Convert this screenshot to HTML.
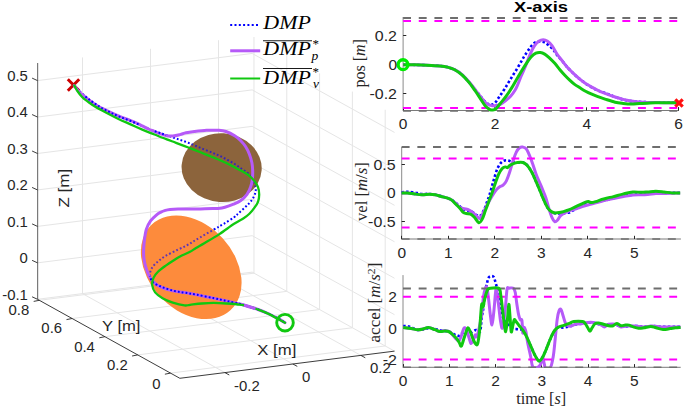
<!DOCTYPE html>
<html><head><meta charset="utf-8"><style>
html,body{margin:0;padding:0;background:#fff;width:685px;height:408px;overflow:hidden;}
svg{display:block;font-family:"Liberation Sans",sans-serif;}
</style></head><body>
<svg width="685" height="408" viewBox="0 0 685 408"><g><line x1="82.52" y1="293.61" x2="82.52" y2="57.41" stroke="#e5e5e5" stroke-width="1"/><line x1="224.87" y1="372.59" x2="82.52" y2="293.61" stroke="#e5e5e5" stroke-width="1"/><line x1="150.52" y1="285.01" x2="150.52" y2="48.81" stroke="#e5e5e5" stroke-width="1"/><line x1="292.87" y1="363.99" x2="150.52" y2="285.01" stroke="#e5e5e5" stroke-width="1"/><line x1="218.52" y1="276.41" x2="218.52" y2="40.21" stroke="#e5e5e5" stroke-width="1"/><line x1="360.87" y1="355.39" x2="218.52" y2="276.41" stroke="#e5e5e5" stroke-width="1"/><line x1="37.5" y1="299.3" x2="252.18" y2="272.15" stroke="#e5e5e5" stroke-width="1"/><line x1="394.53" y1="351.14" x2="252.18" y2="272.15" stroke="#e5e5e5" stroke-width="1"/><line x1="37.5" y1="262.85" x2="252.18" y2="235.7" stroke="#e5e5e5" stroke-width="1"/><line x1="394.53" y1="314.69" x2="252.18" y2="235.7" stroke="#e5e5e5" stroke-width="1"/><line x1="37.5" y1="226.4" x2="252.18" y2="199.25" stroke="#e5e5e5" stroke-width="1"/><line x1="394.53" y1="278.24" x2="252.18" y2="199.25" stroke="#e5e5e5" stroke-width="1"/><line x1="37.5" y1="189.95" x2="252.18" y2="162.8" stroke="#e5e5e5" stroke-width="1"/><line x1="394.53" y1="241.79" x2="252.18" y2="162.8" stroke="#e5e5e5" stroke-width="1"/><line x1="37.5" y1="153.5" x2="252.18" y2="126.35" stroke="#e5e5e5" stroke-width="1"/><line x1="394.53" y1="205.34" x2="252.18" y2="126.35" stroke="#e5e5e5" stroke-width="1"/><line x1="37.5" y1="117.05" x2="252.18" y2="89.9" stroke="#e5e5e5" stroke-width="1"/><line x1="394.53" y1="168.89" x2="252.18" y2="89.9" stroke="#e5e5e5" stroke-width="1"/><line x1="37.5" y1="80.6" x2="252.18" y2="53.45" stroke="#e5e5e5" stroke-width="1"/><line x1="394.53" y1="132.44" x2="252.18" y2="53.45" stroke="#e5e5e5" stroke-width="1"/><line x1="385.18" y1="345.95" x2="385.18" y2="109.75" stroke="#e5e5e5" stroke-width="1"/><line x1="170.5" y1="373.1" x2="385.18" y2="345.95" stroke="#e5e5e5" stroke-width="1"/><line x1="352.38" y1="327.75" x2="352.38" y2="91.55" stroke="#e5e5e5" stroke-width="1"/><line x1="137.7" y1="354.9" x2="352.38" y2="327.75" stroke="#e5e5e5" stroke-width="1"/><line x1="319.58" y1="309.55" x2="319.58" y2="73.35" stroke="#e5e5e5" stroke-width="1"/><line x1="104.9" y1="336.7" x2="319.58" y2="309.55" stroke="#e5e5e5" stroke-width="1"/><line x1="286.78" y1="291.35" x2="286.78" y2="55.15" stroke="#e5e5e5" stroke-width="1"/><line x1="72.1" y1="318.5" x2="286.78" y2="291.35" stroke="#e5e5e5" stroke-width="1"/><line x1="253.98" y1="273.15" x2="253.98" y2="36.95" stroke="#e5e5e5" stroke-width="1"/><line x1="39.3" y1="300.3" x2="253.98" y2="273.15" stroke="#e5e5e5" stroke-width="1"/></g>
<g><line x1="37.6" y1="299.3" x2="37.6" y2="63" stroke="#7a7a7a" stroke-width="1.2"/><line x1="179.85" y1="378.29" x2="37.5" y2="299.3" stroke="#262626" stroke-width="0.9"/><line x1="179.85" y1="378.29" x2="394.53" y2="351.14" stroke="#262626" stroke-width="0.9"/><line x1="37.5" y1="299.3" x2="32.1" y2="296.8" stroke="#262626" stroke-width="0.9"/><line x1="37.5" y1="262.85" x2="32.1" y2="260.35" stroke="#262626" stroke-width="0.9"/><line x1="37.5" y1="226.4" x2="32.1" y2="223.9" stroke="#262626" stroke-width="0.9"/><line x1="37.5" y1="189.95" x2="32.1" y2="187.45" stroke="#262626" stroke-width="0.9"/><line x1="37.5" y1="153.5" x2="32.1" y2="151" stroke="#262626" stroke-width="0.9"/><line x1="37.5" y1="117.05" x2="32.1" y2="114.55" stroke="#262626" stroke-width="0.9"/><line x1="37.5" y1="80.6" x2="32.1" y2="78.1" stroke="#262626" stroke-width="0.9"/><line x1="170.5" y1="373.1" x2="164.9" y2="374.2" stroke="#262626" stroke-width="0.9"/><line x1="137.7" y1="354.9" x2="132.1" y2="356" stroke="#262626" stroke-width="0.9"/><line x1="104.9" y1="336.7" x2="99.3" y2="337.8" stroke="#262626" stroke-width="0.9"/><line x1="72.1" y1="318.5" x2="66.5" y2="319.6" stroke="#262626" stroke-width="0.9"/><line x1="39.3" y1="300.3" x2="33.7" y2="301.4" stroke="#262626" stroke-width="0.9"/><line x1="224.87" y1="372.59" x2="229.27" y2="374.99" stroke="#262626" stroke-width="0.9"/><line x1="292.87" y1="363.99" x2="297.27" y2="366.39" stroke="#262626" stroke-width="0.9"/><line x1="360.87" y1="355.39" x2="365.27" y2="357.79" stroke="#262626" stroke-width="0.9"/></g>
<defs><clipPath id="sph"><ellipse cx="221.64" cy="167.67" rx="40.1" ry="34.4" transform="rotate(3.8 221.64 167.67)"/><ellipse cx="191.23" cy="267.32" rx="58.2" ry="42.8" transform="rotate(47.7 191.23 267.32)"/></clipPath></defs>
<defs><clipPath id="bluetop"><rect x="84" y="86" width="56" height="44"/><polygon points="145,276 300,276 300,335 145,335"/><rect x="154" y="128" width="12" height="9"/></clipPath></defs>
<path d="M67.8 79.3 L79.2 90.7 M79.2 79.3 L67.8 90.7" stroke="#cc0000" stroke-width="3"/>
<path d="M74.3 85.5 C75.25 86.5 77.38 89.03 80 91.5 C82.62 93.97 86.67 97.72 90 100.3 C93.33 102.88 96.67 104.98 100 107 C103.33 109.02 106.67 110.75 110 112.4 C113.33 114.05 116.25 115.35 120 116.9 C123.75 118.45 128.33 119.97 132.5 121.7 C136.67 123.43 141.13 125.65 145 127.3 C148.87 128.95 152.28 130.35 155.7 131.6 C159.12 132.85 162.07 133.63 165.5 134.8 C168.93 135.97 172.5 137.27 176.3 138.6 C180.1 139.93 184.27 141.25 188.3 142.8 C192.33 144.35 196.42 146.22 200.5 147.9 C204.58 149.58 209.55 151.55 212.8 152.9 C216.05 154.25 217.57 154.85 220 156 C222.43 157.15 224.95 158.47 227.4 159.8 C229.85 161.13 232.47 162.58 234.7 164 C236.93 165.42 238.75 166.87 240.8 168.3 C242.85 169.73 245.3 171.23 247 172.6 C248.7 173.97 249.98 175.32 251 176.5 C252.02 177.68 252.35 177.93 253.1 179.7 C253.85 181.47 255.1 185.05 255.5 187.1 C255.9 189.15 255.9 190.17 255.5 192 C255.1 193.83 254.12 196.27 253.1 198.1 C252.08 199.93 250.83 201.37 249.4 203 C247.97 204.63 246.33 206.17 244.5 207.9 C242.67 209.63 240.13 211.85 238.4 213.4 C236.67 214.95 236.53 215.47 234.1 217.2 C231.67 218.93 227.23 221.72 223.8 223.8 C220.37 225.88 218.13 227.03 213.5 229.7 C208.87 232.37 200.33 237.25 196 239.8 C191.67 242.35 190.63 243.3 187.5 245 C184.37 246.7 180.88 248.17 177.2 250 C173.52 251.83 168.6 254.08 165.4 256 C162.2 257.92 160.2 259.6 158 261.5 C155.8 263.4 153.53 265.2 152.2 267.4 C150.87 269.6 149.88 272.25 150 274.7 C150.12 277.15 150.82 280.02 152.9 282.1 C154.98 284.18 158.95 285.73 162.5 287.2 C166.05 288.67 170.53 290 174.2 290.9 C177.87 291.8 180.87 291.98 184.5 292.6 C188.13 293.22 191.17 293.68 196 294.6 C200.83 295.52 208.37 297.03 213.5 298.1 C218.63 299.17 222.38 300.02 226.8 301 C231.22 301.98 236.13 303.02 240 304 C243.87 304.98 247 305.98 250 306.9 C253 307.82 255 308.4 258 309.5 C261 310.6 264.33 311.82 268 313.5 C271.67 315.18 277.17 318.07 280 319.6 C282.83 321.13 284.17 322.18 285 322.7" fill="none" stroke="#0000ff" stroke-width="2" stroke-dasharray="1.8 2.1"/>
<ellipse cx="221.64" cy="167.67" rx="40.1" ry="34.4" transform="rotate(3.8 221.64 167.67)" fill="#8c643c"/>
<ellipse cx="191.23" cy="267.32" rx="58.2" ry="42.8" transform="rotate(47.7 191.23 267.32)" fill="#fd8b3c"/>
<path d="M74.3 85.5 C75.25 86.5 77.38 89.03 80 91.5 C82.62 93.97 86.67 97.72 90 100.3 C93.33 102.88 96.67 104.98 100 107 C103.33 109.02 106.67 110.75 110 112.4 C113.33 114.05 116.25 115.35 120 116.9 C123.75 118.45 128.33 119.97 132.5 121.7 C136.67 123.43 141.13 125.65 145 127.3 C148.87 128.95 152.28 130.35 155.7 131.6 C159.12 132.85 162.07 133.63 165.5 134.8 C168.93 135.97 172.5 137.27 176.3 138.6 C180.1 139.93 184.27 141.25 188.3 142.8 C192.33 144.35 196.42 146.22 200.5 147.9 C204.58 149.58 209.55 151.55 212.8 152.9 C216.05 154.25 217.57 154.85 220 156 C222.43 157.15 224.95 158.47 227.4 159.8 C229.85 161.13 232.47 162.58 234.7 164 C236.93 165.42 238.75 166.87 240.8 168.3 C242.85 169.73 245.3 171.23 247 172.6 C248.7 173.97 249.98 175.32 251 176.5 C252.02 177.68 252.35 177.93 253.1 179.7 C253.85 181.47 255.1 185.05 255.5 187.1 C255.9 189.15 255.9 190.17 255.5 192 C255.1 193.83 254.12 196.27 253.1 198.1 C252.08 199.93 250.83 201.37 249.4 203 C247.97 204.63 246.33 206.17 244.5 207.9 C242.67 209.63 240.13 211.85 238.4 213.4 C236.67 214.95 236.53 215.47 234.1 217.2 C231.67 218.93 227.23 221.72 223.8 223.8 C220.37 225.88 218.13 227.03 213.5 229.7 C208.87 232.37 200.33 237.25 196 239.8 C191.67 242.35 190.63 243.3 187.5 245 C184.37 246.7 180.88 248.17 177.2 250 C173.52 251.83 168.6 254.08 165.4 256 C162.2 257.92 160.2 259.6 158 261.5 C155.8 263.4 153.53 265.2 152.2 267.4 C150.87 269.6 149.88 272.25 150 274.7 C150.12 277.15 150.82 280.02 152.9 282.1 C154.98 284.18 158.95 285.73 162.5 287.2 C166.05 288.67 170.53 290 174.2 290.9 C177.87 291.8 180.87 291.98 184.5 292.6 C188.13 293.22 191.17 293.68 196 294.6 C200.83 295.52 208.37 297.03 213.5 298.1 C218.63 299.17 222.38 300.02 226.8 301 C231.22 301.98 236.13 303.02 240 304 C243.87 304.98 247 305.98 250 306.9 C253 307.82 255 308.4 258 309.5 C261 310.6 264.33 311.82 268 313.5 C271.67 315.18 277.17 318.07 280 319.6 C282.83 321.13 284.17 322.18 285 322.7" fill="none" stroke="#0000ff" stroke-opacity="0.62" stroke-width="2" clip-path="url(#sph)" stroke-dasharray="1.8 2.1"/>
<path d="M74.3 85.5 C74.83 86.25 76.17 88.47 77.5 90 C78.83 91.53 79.47 92.38 82.3 94.7 C85.13 97.02 90.42 101.25 94.5 103.9 C98.58 106.55 102.72 108.55 106.8 110.6 C110.88 112.65 115.13 114.57 119 116.2 C122.87 117.83 127.15 119.28 130 120.4 C132.85 121.52 134.05 121.98 136.1 122.9 C138.15 123.82 140.25 124.88 142.3 125.9 C144.35 126.92 146.37 128.08 148.4 129 C150.43 129.92 152.47 130.58 154.5 131.4 C156.53 132.22 158.55 133.18 160.6 133.9 C162.65 134.62 164.75 135.35 166.8 135.7 C168.85 136.05 170.7 136.18 172.9 136 C175.1 135.82 177.82 135.13 180 134.6 C182.18 134.07 183.6 133.32 186 132.8 C188.4 132.28 190.97 131.92 194.4 131.5 C197.83 131.08 202.52 130.5 206.6 130.3 C210.68 130.1 215.67 130.1 218.9 130.3 C222.13 130.5 223.37 130.58 226 131.5 C228.63 132.42 232.23 134.27 234.7 135.8 C237.17 137.33 238.97 138.87 240.8 140.7 C242.63 142.53 244.27 144.55 245.7 146.8 C247.13 149.05 248.37 151.53 249.4 154.2 C250.43 156.87 251.35 160 251.9 162.8 C252.45 165.6 252.63 168.18 252.7 171 C252.77 173.82 252.65 177.02 252.3 179.7 C251.95 182.38 251.48 184.65 250.6 187.1 C249.72 189.55 248.63 192.17 247 194.4 C245.37 196.63 243.05 198.87 240.8 200.5 C238.55 202.13 236.15 203.07 233.5 204.2 C230.85 205.33 227.48 206.58 224.9 207.3 C222.32 208.02 220.02 208.28 218 208.5 C215.98 208.72 215.72 208.53 212.8 208.6 C209.88 208.67 204.58 208.82 200.5 208.9 C196.42 208.98 192.05 209.08 188.3 209.1 C184.55 209.12 181.05 208.93 178 209 C174.95 209.07 172.1 209.27 170 209.5 C167.9 209.73 166.98 209.93 165.4 210.4 C163.82 210.87 161.97 211.57 160.5 212.3 C159.03 213.03 158.23 213.4 156.6 214.8 C154.97 216.2 152.42 218.25 150.7 220.7 C148.98 223.15 147.4 225.82 146.3 229.5 C145.2 233.18 144.55 238.63 144.1 242.8 C143.65 246.97 143.53 251.3 143.6 254.5 C143.67 257.7 144.05 259.62 144.5 262 C144.95 264.38 145.52 266.43 146.3 268.8 C147.08 271.17 147.98 273.98 149.2 276.2 C150.42 278.42 151.63 280.27 153.6 282.1 C155.57 283.93 157.8 285.73 161 287.2 C164.2 288.67 168.88 290 172.8 290.9 C176.72 291.8 180.63 291.98 184.5 292.6 C188.37 293.22 193.12 294.05 196 294.6 C198.88 295.15 198.88 295.32 201.8 295.9 C204.72 296.48 209.33 297.25 213.5 298.1 C217.67 298.95 222.38 300.02 226.8 301 C231.22 301.98 236.13 303.02 240 304 C243.87 304.98 247 305.98 250 306.9 C253 307.82 255 308.4 258 309.5 C261 310.6 264.33 311.82 268 313.5 C271.67 315.18 277.17 318.07 280 319.6 C282.83 321.13 284.17 322.18 285 322.7" fill="none" stroke="#b65af8" stroke-width="3" stroke-linecap="round" stroke-linejoin="round"/>
<path d="M74.3 85.5 C75.25 86.5 77.38 89.03 80 91.5 C82.62 93.97 86.67 97.72 90 100.3 C93.33 102.88 96.67 104.98 100 107 C103.33 109.02 106.67 110.75 110 112.4 C113.33 114.05 116.25 115.35 120 116.9 C123.75 118.45 128.33 119.97 132.5 121.7 C136.67 123.43 141.13 125.65 145 127.3 C148.87 128.95 152.28 130.35 155.7 131.6 C159.12 132.85 162.07 133.63 165.5 134.8 C168.93 135.97 172.5 137.27 176.3 138.6 C180.1 139.93 184.27 141.25 188.3 142.8 C192.33 144.35 196.42 146.22 200.5 147.9 C204.58 149.58 209.55 151.55 212.8 152.9 C216.05 154.25 217.57 154.85 220 156 C222.43 157.15 224.95 158.47 227.4 159.8 C229.85 161.13 232.47 162.58 234.7 164 C236.93 165.42 238.75 166.87 240.8 168.3 C242.85 169.73 245.3 171.23 247 172.6 C248.7 173.97 249.98 175.32 251 176.5 C252.02 177.68 252.35 177.93 253.1 179.7 C253.85 181.47 255.1 185.05 255.5 187.1 C255.9 189.15 255.9 190.17 255.5 192 C255.1 193.83 254.12 196.27 253.1 198.1 C252.08 199.93 250.83 201.37 249.4 203 C247.97 204.63 246.33 206.17 244.5 207.9 C242.67 209.63 240.13 211.85 238.4 213.4 C236.67 214.95 236.53 215.47 234.1 217.2 C231.67 218.93 227.23 221.72 223.8 223.8 C220.37 225.88 218.13 227.03 213.5 229.7 C208.87 232.37 200.33 237.25 196 239.8 C191.67 242.35 190.63 243.3 187.5 245 C184.37 246.7 180.88 248.17 177.2 250 C173.52 251.83 168.6 254.08 165.4 256 C162.2 257.92 160.2 259.6 158 261.5 C155.8 263.4 153.53 265.2 152.2 267.4 C150.87 269.6 149.88 272.25 150 274.7 C150.12 277.15 150.82 280.02 152.9 282.1 C154.98 284.18 158.95 285.73 162.5 287.2 C166.05 288.67 170.53 290 174.2 290.9 C177.87 291.8 180.87 291.98 184.5 292.6 C188.13 293.22 191.17 293.68 196 294.6 C200.83 295.52 208.37 297.03 213.5 298.1 C218.63 299.17 222.38 300.02 226.8 301 C231.22 301.98 236.13 303.02 240 304 C243.87 304.98 247 305.98 250 306.9 C253 307.82 255 308.4 258 309.5 C261 310.6 264.33 311.82 268 313.5 C271.67 315.18 277.17 318.07 280 319.6 C282.83 321.13 284.17 322.18 285 322.7" fill="none" stroke="#0000ff" stroke-width="2" clip-path="url(#bluetop)" stroke-dasharray="1.8 2.1"/>
<path d="M74.3 85.5 C74.82 86.42 76.07 89.05 77.4 91 C78.73 92.95 80.47 95.37 82.3 97.2 C84.13 99.03 86.37 100.48 88.4 102 C90.43 103.52 91.43 104.47 94.5 106.3 C97.57 108.13 102.72 110.85 106.8 113 C110.88 115.15 115.13 117.35 119 119.2 C122.87 121.05 126.12 122.37 130 124.1 C133.88 125.83 138.22 127.87 142.3 129.6 C146.38 131.33 150.42 132.87 154.5 134.5 C158.58 136.13 163.22 138.02 166.8 139.4 C170.38 140.78 172.42 141.45 176 142.8 C179.58 144.15 184.22 145.92 188.3 147.5 C192.38 149.08 196.42 150.67 200.5 152.3 C204.58 153.93 209.55 155.98 212.8 157.3 C216.05 158.62 217.17 158.97 220 160.2 C222.83 161.43 226.53 163.08 229.8 164.7 C233.07 166.32 236.53 168.22 239.6 169.9 C242.67 171.58 245.75 172.97 248.2 174.8 C250.65 176.63 252.67 178.85 254.3 180.9 C255.93 182.95 257.18 184.85 258 187.1 C258.82 189.35 259.2 191.95 259.2 194.4 C259.2 196.85 258.82 199.55 258 201.8 C257.18 204.05 255.73 205.9 254.3 207.9 C252.87 209.9 251.12 212.12 249.4 213.8 C247.68 215.48 246.55 216.33 244 218 C241.45 219.67 238.2 221.12 234.1 223.8 C230 226.48 224.3 230.9 219.4 234.1 C214.5 237.3 208.6 240.68 204.7 243 C200.8 245.32 198.45 246.53 196 248 C193.55 249.47 192.67 250.38 190 251.8 C187.33 253.22 182.63 255.13 180 256.5 C177.37 257.87 176.63 258.43 174.2 260 C171.77 261.57 168.1 263.93 165.4 265.9 C162.7 267.87 159.97 269.85 158 271.8 C156.03 273.75 154.57 275.4 153.6 277.6 C152.63 279.8 151.95 282.53 152.2 285 C152.45 287.47 153.38 290.2 155.1 292.4 C156.82 294.6 159.55 296.5 162.5 298.2 C165.45 299.9 169.13 301.4 172.8 302.6 C176.47 303.8 181.63 305.03 184.5 305.4 C187.37 305.77 187.12 305.12 190 304.8 C192.88 304.48 197.88 303.82 201.8 303.5 C205.72 303.18 209.33 302.9 213.5 302.9 C217.67 302.9 222.38 303.2 226.8 303.5 C231.22 303.8 236.13 304.13 240 304.7 C243.87 305.27 247 306.1 250 306.9 C253 307.7 255 308.38 258 309.5 C261 310.62 264.33 311.85 268 313.6 C271.67 315.35 277.17 318.48 280 320 C282.83 321.52 284.17 322.25 285 322.7" fill="none" stroke="#10c810" stroke-width="2.3" stroke-linecap="round" stroke-linejoin="round"/>
<path d="M244 305.2 C247 306 251 307.2 255.5 308.5" fill="none" stroke="#b65af8" stroke-width="3"/>
<circle cx="285" cy="322.7" r="8.3" fill="none" stroke="#10c810" stroke-width="2.9"/>
<g><line x1="230.2" y1="25" x2="260.2" y2="25" stroke="#0000ff" stroke-width="2" stroke-dasharray="2 2.3"/><line x1="230.2" y1="50.8" x2="260.2" y2="50.8" stroke="#b65af8" stroke-width="3"/><line x1="230.2" y1="78.5" x2="260.2" y2="78.5" stroke="#10c810" stroke-width="2"/><line x1="263" y1="40.75" x2="312" y2="40.75" stroke="#000" stroke-width="0.9"/><line x1="263" y1="68.5" x2="312" y2="68.5" stroke="#000" stroke-width="0.9"/></g>
<g><rect x="403.1" y="17" width="275.5" height="93.5" fill="#fff"/><line x1="403.1" y1="17" x2="403.1" y2="111" stroke="#8a8a8a" stroke-width="1"/><line x1="403.1" y1="110.5" x2="678.6" y2="110.5" stroke="#7a7a7a" stroke-width="1"/><line x1="403.5" y1="110.5" x2="403.5" y2="107.3" stroke="#262626" stroke-width="1"/><line x1="494.5" y1="110.5" x2="494.5" y2="107.3" stroke="#262626" stroke-width="1"/><line x1="586.5" y1="110.5" x2="586.5" y2="107.3" stroke="#262626" stroke-width="1"/><line x1="678.5" y1="110.5" x2="678.5" y2="107.3" stroke="#262626" stroke-width="1"/><line x1="678.5" y1="110.5" x2="678.5" y2="107.3" stroke="#262626" stroke-width="1"/><line x1="403.1" y1="35.5" x2="406.3" y2="35.5" stroke="#262626" stroke-width="1"/><line x1="403.1" y1="64.5" x2="406.3" y2="64.5" stroke="#262626" stroke-width="1"/><line x1="403.1" y1="93.5" x2="406.3" y2="93.5" stroke="#262626" stroke-width="1"/><rect x="401.7" y="146.8" width="279.2" height="92.2" fill="#fff"/><line x1="401.7" y1="146.8" x2="401.7" y2="239.5" stroke="#8a8a8a" stroke-width="1"/><line x1="401.7" y1="239" x2="680.9" y2="239" stroke="#7a7a7a" stroke-width="1"/><line x1="401.5" y1="239" x2="401.5" y2="235.8" stroke="#262626" stroke-width="1"/><line x1="448.5" y1="239" x2="448.5" y2="235.8" stroke="#262626" stroke-width="1"/><line x1="494.5" y1="239" x2="494.5" y2="235.8" stroke="#262626" stroke-width="1"/><line x1="541.5" y1="239" x2="541.5" y2="235.8" stroke="#262626" stroke-width="1"/><line x1="587.5" y1="239" x2="587.5" y2="235.8" stroke="#262626" stroke-width="1"/><line x1="634.5" y1="239" x2="634.5" y2="235.8" stroke="#262626" stroke-width="1"/><line x1="401.7" y1="164.5" x2="404.9" y2="164.5" stroke="#262626" stroke-width="1"/><line x1="401.7" y1="192.5" x2="404.9" y2="192.5" stroke="#262626" stroke-width="1"/><line x1="401.7" y1="221.5" x2="404.9" y2="221.5" stroke="#262626" stroke-width="1"/><rect x="403" y="275.1" width="277.7" height="92.2" fill="#fff"/><line x1="403" y1="275.1" x2="403" y2="367.8" stroke="#8a8a8a" stroke-width="1"/><line x1="403" y1="367.3" x2="680.7" y2="367.3" stroke="#7a7a7a" stroke-width="1"/><line x1="403.5" y1="367.3" x2="403.5" y2="364.1" stroke="#262626" stroke-width="1"/><line x1="449.5" y1="367.3" x2="449.5" y2="364.1" stroke="#262626" stroke-width="1"/><line x1="495.5" y1="367.3" x2="495.5" y2="364.1" stroke="#262626" stroke-width="1"/><line x1="541.5" y1="367.3" x2="541.5" y2="364.1" stroke="#262626" stroke-width="1"/><line x1="588.5" y1="367.3" x2="588.5" y2="364.1" stroke="#262626" stroke-width="1"/><line x1="634.5" y1="367.3" x2="634.5" y2="364.1" stroke="#262626" stroke-width="1"/><line x1="403" y1="296.5" x2="406.2" y2="296.5" stroke="#262626" stroke-width="1"/><line x1="403" y1="328.5" x2="406.2" y2="328.5" stroke="#262626" stroke-width="1"/><line x1="403" y1="359.5" x2="406.2" y2="359.5" stroke="#262626" stroke-width="1"/></g>
<g><defs><clipPath id="accclip"><rect x="403" y="275" width="280" height="92.8"/></clipPath></defs><path d="M403.2 64.7 C407.17 64.78 419.63 64.8 427 65.2 C434.37 65.6 441.57 65.53 447.4 67.1 C453.23 68.67 457.1 70.48 462 74.6 C466.9 78.72 472.97 87.32 476.8 91.8 C480.63 96.28 482.8 99.38 485 101.5 C487.2 103.62 488.43 104.17 490 104.5 C491.57 104.83 492.93 104.65 494.4 103.5 C495.87 102.35 497.08 100.05 498.8 97.6 C500.52 95.15 502.73 91.9 504.7 88.8 C506.67 85.7 508.47 82.47 510.6 79 C512.73 75.53 515.33 71.6 517.5 68 C519.67 64.4 521.72 60.5 523.6 57.4 C525.48 54.3 527.42 51.4 528.8 49.4 C530.18 47.4 530.77 46.62 531.9 45.4 C533.03 44.18 534.2 42.75 535.6 42.1 C537 41.45 538.78 41.45 540.3 41.5 C541.82 41.55 543.23 41.72 544.7 42.4 C546.17 43.08 547.63 44.33 549.1 45.6 C550.57 46.87 552.18 48.43 553.5 50 C554.82 51.57 555.52 53.15 557 55 C558.48 56.85 560.68 59.05 562.4 61.1 C564.12 63.15 565.47 65.25 567.3 67.3 C569.13 69.35 571.37 71.47 573.4 73.4 C575.43 75.33 576.43 76.55 579.5 78.9 C582.57 81.25 587.55 85.15 591.8 87.5 C596.05 89.85 598.43 90.73 605 93 C611.57 95.27 618.93 99.48 631.2 101.1 C643.47 102.72 670.7 102.43 678.6 102.7" fill="none" stroke="#0000ff" stroke-width="2.6" stroke-dasharray="2.5 2.2"/><path d="M403.2 64.7 C405.17 64.72 411.03 64.72 415 64.8 C418.97 64.88 422.83 65 427 65.2 C431.17 65.4 436.6 65.68 440 66 C443.4 66.32 444.95 66.48 447.4 67.1 C449.85 67.72 452.27 68.45 454.7 69.7 C457.13 70.95 459.55 72.52 462 74.6 C464.45 76.68 466.93 79.33 469.4 82.2 C471.87 85.07 474.6 88.98 476.8 91.8 C479 94.62 480.9 97.08 482.6 99.1 C484.3 101.12 485.52 102.82 487 103.9 C488.48 104.98 490.02 105.32 491.5 105.6 C492.98 105.88 494.43 105.82 495.9 105.6 C497.37 105.38 498.83 105.02 500.3 104.3 C501.77 103.58 502.98 102.65 504.7 101.3 C506.42 99.95 508.88 98.03 510.6 96.2 C512.32 94.37 513.77 92.33 515 90.3 C516.23 88.27 516.97 86.38 518 84 C519.03 81.62 519.93 79 521.2 76 C522.47 73 524.13 69.57 525.6 66 C527.07 62.43 528.53 57.97 530 54.6 C531.47 51.23 532.93 48.03 534.4 45.8 C535.87 43.57 537.33 42.22 538.8 41.2 C540.27 40.18 541.73 39.7 543.2 39.7 C544.67 39.7 546.13 40.22 547.6 41.2 C549.07 42.18 550.43 43.47 552 45.6 C553.57 47.73 555.27 51.42 557 54 C558.73 56.58 560.68 58.88 562.4 61.1 C564.12 63.32 565.47 65.25 567.3 67.3 C569.13 69.35 571.37 71.47 573.4 73.4 C575.43 75.33 577.47 77.22 579.5 78.9 C581.53 80.58 583.55 82.13 585.6 83.5 C587.65 84.87 589.75 85.97 591.8 87.1 C593.85 88.23 595.7 89.27 597.9 90.3 C600.1 91.33 602.13 92.18 605 93.3 C607.87 94.42 612.07 95.98 615.1 97 C618.13 98.02 620.52 98.73 623.2 99.4 C625.88 100.07 628.53 100.58 631.2 101 C633.87 101.42 636.53 101.67 639.2 101.9 C641.87 102.13 644.52 102.3 647.2 102.4 C649.88 102.5 652.62 102.45 655.3 102.5 C657.98 102.55 659.42 102.67 663.3 102.7 C667.18 102.73 676.05 102.7 678.6 102.7" fill="none" stroke="#b65af8" stroke-width="3.0" stroke-linejoin="round"/><line x1="403.1" y1="18" x2="677.6" y2="18" stroke="#6e6e6e" stroke-width="2" stroke-dasharray="7.9 7.76"/><line x1="403.1" y1="21" x2="677.6" y2="21" stroke="#ff00ff" stroke-width="2" stroke-dasharray="7.9 7.76"/><line x1="403.1" y1="108" x2="677.6" y2="108" stroke="#ff00ff" stroke-width="2" stroke-dasharray="7.9 7.76"/><line x1="403.1" y1="111" x2="677.6" y2="111" stroke="#6e6e6e" stroke-width="1.6" stroke-dasharray="7.9 7.76"/><path d="M403.2 64.7 C405.17 64.72 411.03 64.72 415 64.8 C418.97 64.88 422.83 65 427 65.2 C431.17 65.4 436.6 65.68 440 66 C443.4 66.32 444.95 66.48 447.4 67.1 C449.85 67.72 452.27 68.4 454.7 69.7 C457.13 71 459.55 72.7 462 74.9 C464.45 77.1 467.18 80.22 469.4 82.9 C471.62 85.58 473.33 88.17 475.3 91 C477.27 93.83 479.48 97.35 481.2 99.9 C482.92 102.45 484.22 104.73 485.6 106.3 C486.98 107.87 488.28 108.68 489.5 109.3 C490.72 109.92 491.82 110.1 492.9 110 C493.98 109.9 494.77 109.78 496 108.7 C497.23 107.62 498.6 105.58 500.3 103.5 C502 101.42 504.25 98.88 506.2 96.2 C508.15 93.52 510.03 90.6 512 87.4 C513.97 84.2 515.73 80.78 518 77 C520.27 73.22 523.35 68.1 525.6 64.7 C527.85 61.3 529.78 58.52 531.5 56.6 C533.22 54.68 534.43 53.87 535.9 53.2 C537.37 52.53 538.83 52.45 540.3 52.6 C541.77 52.75 543.23 53.27 544.7 54.1 C546.17 54.93 547.38 56.02 549.1 57.6 C550.82 59.18 553.2 61.58 555 63.6 C556.8 65.62 558.27 67.77 559.9 69.7 C561.53 71.63 563.17 73.47 564.8 75.2 C566.43 76.93 568.07 78.57 569.7 80.1 C571.33 81.63 572.97 83.17 574.6 84.4 C576.23 85.63 577.67 86.37 579.5 87.5 C581.33 88.63 583.55 90.08 585.6 91.2 C587.65 92.32 589.75 93.28 591.8 94.2 C593.85 95.12 595.7 95.88 597.9 96.7 C600.1 97.52 602.13 98.18 605 99.1 C607.87 100.02 612.07 101.48 615.1 102.2 C618.13 102.92 620.52 103.1 623.2 103.4 C625.88 103.7 628.53 103.97 631.2 104 C633.87 104.03 636.53 103.73 639.2 103.6 C641.87 103.47 644.52 103.33 647.2 103.2 C649.88 103.07 652.62 102.88 655.3 102.8 C657.98 102.72 659.42 102.72 663.3 102.7 C667.18 102.68 676.05 102.7 678.6 102.7" fill="none" stroke="#10c810" stroke-width="3.0" stroke-linejoin="round"/><path d="M401.5 192.5 C402.42 192.38 404.92 191.82 407 191.8 C409.08 191.78 411.5 192.03 414 192.4 C416.5 192.77 419.33 193.73 422 194 C424.67 194.27 426.83 193.67 430 194 C433.17 194.33 437.5 195.08 441 196 C444.5 196.92 448.5 198.33 451 199.5 C453.5 200.67 454.33 201.67 456 203 C457.67 204.33 459.33 206.23 461 207.5 C462.67 208.77 464.17 209.92 466 210.6 C467.83 211.28 470.38 210.93 472 211.6 C473.62 212.27 474.37 213.87 475.7 214.6 C477.03 215.33 478.62 216.77 480 216 C481.38 215.23 482.83 212.33 484 210 C485.17 207.67 486.03 204.67 487 202 C487.97 199.33 488.77 197.35 489.8 194 C490.83 190.65 492.08 185.75 493.2 181.9 C494.32 178.05 495.4 173.83 496.5 170.9 C497.6 167.97 498.7 165.95 499.8 164.3 C500.9 162.65 502 161.67 503.1 161 C504.2 160.33 505.3 160.3 506.4 160.3 C507.5 160.3 508.6 160.68 509.7 161 C510.8 161.32 511.72 161.95 513 162.2 C514.28 162.45 515.75 162.45 517.4 162.5 C519.05 162.55 521.25 162.02 522.9 162.5 C524.55 162.98 525.83 163.82 527.3 165.4 C528.77 166.98 530.22 169.25 531.7 172 C533.18 174.75 534.77 178.65 536.2 181.9 C537.63 185.15 539.18 188.83 540.3 191.5 C541.42 194.17 541.97 195.72 542.9 197.9 C543.83 200.08 544.92 202.68 545.9 204.6 C546.88 206.52 547.78 208.17 548.8 209.4 C549.82 210.63 550.77 211.33 552 212 C553.23 212.67 554.53 213.17 556.2 213.4 C557.87 213.63 559.8 213.57 562 213.4 C564.2 213.23 567.18 213.13 569.4 212.4 C571.62 211.67 573.33 210.15 575.3 209 C577.27 207.85 578.5 206.5 581.2 205.5 C583.9 204.5 587.33 203.9 591.5 203 C595.67 202.1 600.87 201.27 606.2 200.1 C611.53 198.93 617.7 197.02 623.5 196 C629.3 194.98 634.92 194.5 641 194 C647.08 193.5 653.47 193.18 660 193 C666.53 192.82 676.83 192.92 680.2 192.9" fill="none" stroke="#0000ff" stroke-width="2.6" stroke-dasharray="2.5 2.2"/><path d="M401.5 193.2 C402.48 193.15 405.2 192.77 407.4 192.9 C409.6 193.03 412.27 193.7 414.7 194 C417.13 194.3 419.55 194.65 422 194.7 C424.45 194.75 427.18 194.3 429.4 194.3 C431.62 194.3 433.33 194.33 435.3 194.7 C437.27 195.07 439.25 195.97 441.2 196.5 C443.15 197.03 445.28 197.33 447 197.9 C448.72 198.47 450.02 198.97 451.5 199.9 C452.98 200.83 454.43 202.22 455.9 203.5 C457.37 204.78 458.83 206.73 460.3 207.6 C461.77 208.47 463.23 208.28 464.7 208.7 C466.17 209.12 467.63 209.37 469.1 210.1 C470.57 210.83 472.03 211.9 473.5 213.1 C474.97 214.3 476.78 216.43 477.9 217.3 C479.02 218.17 479.32 219.05 480.2 218.3 C481.08 217.55 481.97 215.18 483.2 212.8 C484.43 210.42 486.13 206.77 487.6 204 C489.07 201.23 490.52 198.6 492 196.2 C493.48 193.8 495.2 191.18 496.5 189.6 C497.8 188.02 498.7 187.43 499.8 186.7 C500.9 185.97 502 186.18 503.1 185.2 C504.2 184.22 505.3 183 506.4 180.8 C507.5 178.6 508.6 175.3 509.7 172 C510.8 168.7 511.9 164.32 513 161 C514.1 157.68 515.2 154.32 516.3 152.1 C517.4 149.88 518.5 148.53 519.6 147.7 C520.7 146.87 521.8 146.92 522.9 147.1 C524 147.28 525.1 147.42 526.2 148.8 C527.3 150.18 528.4 152.82 529.5 155.4 C530.6 157.98 531.68 161.12 532.8 164.3 C533.92 167.48 534.95 171.22 536.2 174.5 C537.45 177.78 539.17 181.33 540.3 184 C541.43 186.67 542.07 188.18 543 190.5 C543.93 192.82 544.93 194.95 545.9 197.9 C546.87 200.85 547.82 205 548.8 208.2 C549.78 211.4 550.82 214.87 551.8 217.1 C552.78 219.33 553.73 221.12 554.7 221.6 C555.67 222.08 556.62 221 557.6 220 C558.58 219 559.37 216.83 560.6 215.6 C561.83 214.37 563.53 213.38 565 212.6 C566.47 211.82 567.43 211.58 569.4 210.9 C571.37 210.22 574.35 209.32 576.8 208.5 C579.25 207.68 581.65 206.73 584.1 206 C586.55 205.27 589.05 204.75 591.5 204.1 C593.95 203.45 596.35 202.77 598.8 202.1 C601.25 201.43 603.75 200.7 606.2 200.1 C608.65 199.5 610.62 199.08 613.5 198.5 C616.38 197.92 620.27 197.18 623.5 196.6 C626.73 196.02 629.98 195.32 632.9 195 C635.82 194.68 638.52 194.77 641 194.7 C643.48 194.63 645.32 194.78 647.8 194.6 C650.28 194.42 653.2 193.77 655.9 193.6 C658.6 193.43 661.3 193.67 664 193.6 C666.7 193.53 669.4 193.32 672.1 193.2 C674.8 193.08 678.85 192.95 680.2 192.9" fill="none" stroke="#b65af8" stroke-width="3.0" stroke-linejoin="round"/><line x1="401.7" y1="147" x2="679.9" y2="147" stroke="#6e6e6e" stroke-width="2" stroke-dasharray="7.9 7.76"/><line x1="401.7" y1="158.5" x2="679.9" y2="158.5" stroke="#ff00ff" stroke-width="2" stroke-dasharray="7.9 7.76"/><line x1="401.7" y1="227.5" x2="679.9" y2="227.5" stroke="#ff00ff" stroke-width="2" stroke-dasharray="7.9 7.76"/><line x1="401.7" y1="239" x2="679.9" y2="239" stroke="#6e6e6e" stroke-width="1.6" stroke-dasharray="7.9 7.76"/><path d="M401.5 193.2 C402.48 193.15 405.2 192.77 407.4 192.9 C409.6 193.03 412.27 193.7 414.7 194 C417.13 194.3 419.55 194.65 422 194.7 C424.45 194.75 427.18 194.3 429.4 194.3 C431.62 194.3 433.33 194.33 435.3 194.7 C437.27 195.07 439.25 195.97 441.2 196.5 C443.15 197.03 445.28 197.33 447 197.9 C448.72 198.47 450.02 198.83 451.5 199.9 C452.98 200.97 454.43 202.83 455.9 204.3 C457.37 205.77 459.08 207.35 460.3 208.7 C461.52 210.05 462.22 211.6 463.2 212.4 C464.18 213.2 464.97 213.22 466.2 213.5 C467.43 213.78 469.23 213.48 470.6 214.1 C471.97 214.72 473.03 215.77 474.4 217.2 C475.77 218.63 477.52 222.33 478.8 222.7 C480.08 223.07 481 221.42 482.1 219.4 C483.2 217.38 484.3 213.55 485.4 210.6 C486.5 207.65 487.6 204.65 488.7 201.7 C489.8 198.75 490.88 196.02 492 192.9 C493.12 189.78 494.28 186.12 495.4 183 C496.52 179.88 497.6 176.58 498.7 174.2 C499.8 171.82 500.9 169.92 502 168.7 C503.1 167.48 504.38 167.08 505.3 166.9 C506.22 166.72 506.77 167.85 507.5 167.6 C508.23 167.35 508.78 166.03 509.7 165.4 C510.62 164.77 511.72 164.28 513 163.8 C514.28 163.32 515.75 162.72 517.4 162.5 C519.05 162.28 521.25 162.02 522.9 162.5 C524.55 162.98 525.83 163.82 527.3 165.4 C528.77 166.98 530.22 169.25 531.7 172 C533.18 174.75 534.77 178.65 536.2 181.9 C537.63 185.15 539.18 188.83 540.3 191.5 C541.42 194.17 541.97 195.72 542.9 197.9 C543.83 200.08 544.92 202.68 545.9 204.6 C546.88 206.52 547.82 208.18 548.8 209.4 C549.78 210.62 550.82 211.32 551.8 211.9 C552.78 212.48 553.48 212.78 554.7 212.9 C555.92 213.02 557.63 212.82 559.1 212.6 C560.57 212.38 561.78 212.08 563.5 211.6 C565.22 211.12 567.43 210.5 569.4 209.7 C571.37 208.9 573.33 207.73 575.3 206.8 C577.27 205.87 579.48 204.88 581.2 204.1 C582.92 203.32 584.38 202.52 585.6 202.1 C586.82 201.68 587.52 201.52 588.5 201.6 C589.48 201.68 590.27 202.6 591.5 202.6 C592.73 202.6 594.18 202.13 595.9 201.6 C597.62 201.07 599.85 200.02 601.8 199.4 C603.75 198.78 605.65 198.37 607.6 197.9 C609.55 197.43 610.85 197.27 613.5 196.6 C616.15 195.93 620.27 194.67 623.5 193.9 C626.73 193.13 629.98 192.27 632.9 192 C635.82 191.73 638.52 192.32 641 192.3 C643.48 192.28 645.32 192.07 647.8 191.9 C650.28 191.73 653.2 191.28 655.9 191.3 C658.6 191.32 661.3 191.73 664 192 C666.7 192.27 669.4 192.75 672.1 192.9 C674.8 193.05 678.85 192.9 680.2 192.9" fill="none" stroke="#10c810" stroke-width="3.0" stroke-linejoin="round"/><path d="M403.2 326 C404.17 326.08 406.42 325.83 409 326.5 C411.58 327.17 415.2 329.75 418.7 330 C422.2 330.25 426.28 327.92 430 328 C433.72 328.08 437.67 329.83 441 330.5 C444.33 331.17 447.17 331.08 450 332 C452.83 332.92 455.67 336 458 336 C460.33 336 462 332.5 464 332 C466 331.5 468 333.33 470 333 C472 332.67 474.33 330.22 476 330 C477.67 329.78 479.05 333.7 480 331.7 C480.95 329.7 481.13 322 481.7 318 C482.27 314 482.83 311.98 483.4 307.7 C483.97 303.42 484.52 296.3 485.1 292.3 C485.68 288.3 486.32 286.13 486.9 283.7 C487.48 281.27 487.9 278.98 488.6 277.7 C489.3 276.42 490.25 276.13 491.1 276 C491.95 275.87 492.98 275.9 493.7 276.9 C494.42 277.9 494.82 280 495.4 282 C495.98 284 496.62 286.03 497.2 288.9 C497.78 291.77 498.33 295.78 498.9 299.2 C499.47 302.62 499.88 306.27 500.6 309.4 C501.32 312.53 502.07 315.7 503.2 318 C504.33 320.3 505.83 321.48 507.4 323.2 C508.97 324.92 510.88 327.3 512.6 328.3 C514.32 329.3 516.3 329 517.7 329.2 C519.1 329.4 519.95 329.03 521 329.5 C522.05 329.97 523.03 330.73 524 332 C524.97 333.27 525.68 334.78 526.8 337.1 C527.92 339.42 529.4 342.97 530.7 345.9 C532 348.83 533.47 352.42 534.6 354.7 C535.73 356.98 536.68 358.55 537.5 359.6 C538.32 360.65 538.67 361.33 539.5 361 C540.33 360.67 541.35 359.63 542.5 357.6 C543.65 355.57 545.1 351.9 546.4 348.8 C547.7 345.7 549 341.93 550.3 339 C551.6 336.07 552.9 333.1 554.2 331.2 C555.5 329.3 556.47 328.2 558.1 327.6 C559.73 327 562.03 327.82 564 327.6 C565.97 327.38 567.98 326.82 569.9 326.3 C571.82 325.78 573.4 324.95 575.5 324.5 C577.6 324.05 580.45 323.9 582.5 323.6 C584.55 323.3 586.05 322.85 587.8 322.7 C589.55 322.55 590.97 322.43 593 322.7 C595.03 322.97 597.37 324 600 324.3 C602.63 324.6 606.17 324.47 608.8 324.5 C611.43 324.53 613.77 324.17 615.8 324.5 C617.83 324.83 617.8 326.25 621 326.5 C624.2 326.75 631.2 325.97 635 326 C638.8 326.03 640.87 326.7 643.8 326.7 C646.73 326.7 649.68 326 652.6 326 C655.52 326 656.63 326.55 661.3 326.7 C665.97 326.85 677.38 326.87 680.6 326.9" fill="none" stroke="#0000ff" stroke-width="2.6" stroke-dasharray="2.5 2.2"/><path d="M403.2 327.6 C404.53 327.77 408.78 328.25 411.2 328.6 C413.62 328.95 415.73 329.63 417.7 329.7 C419.67 329.77 421.2 329.35 423 329 C424.8 328.65 426.5 327.48 428.5 327.6 C430.5 327.72 433.08 329.05 435 329.7 C436.92 330.35 438.32 331.35 440 331.5 C441.68 331.65 443.38 330.47 445.1 330.6 C446.82 330.73 448.58 331.02 450.3 332.3 C452.02 333.58 453.97 336.87 455.4 338.3 C456.83 339.73 457.9 341.33 458.9 340.9 C459.9 340.47 460.55 337.85 461.4 335.7 C462.25 333.55 463.13 328.85 464 328 C464.87 327.15 465.73 328.88 466.6 330.6 C467.47 332.32 468.48 336.15 469.2 338.3 C469.92 340.45 470.2 343.22 470.9 343.5 C471.6 343.78 472.68 341.43 473.4 340 C474.12 338.57 474.62 335.47 475.2 334.9 C475.78 334.33 476.18 338.03 476.9 336.6 C477.62 335.17 478.7 329.97 479.5 326.3 C480.3 322.63 481.05 319.42 481.7 314.6 C482.35 309.78 482.83 301.68 483.4 297.4 C483.97 293.12 484.52 290.55 485.1 288.9 C485.68 287.25 486.32 285.78 486.9 287.5 C487.48 289.22 488.03 294.68 488.6 299.2 C489.17 303.72 489.73 310.32 490.3 314.6 C490.87 318.88 491.43 325.18 492 324.9 C492.57 324.62 493.13 318.05 493.7 312.9 C494.27 307.75 494.97 298.12 495.4 294 C495.83 289.88 496 288.2 496.3 288.2 C496.6 288.2 496.77 290.75 497.2 294 C497.63 297.25 498.33 303.12 498.9 307.7 C499.47 312.28 500.03 318.07 500.6 321.5 C501.17 324.93 501.73 328.6 502.3 328.3 C502.87 328 503.43 323.7 504 319.7 C504.57 315.7 505.18 309.42 505.7 304.3 C506.22 299.18 506.52 291.68 507.1 289 C507.68 286.32 508.15 288.33 509.2 288.2 C510.25 288.07 512.4 287.52 513.4 288.2 C514.4 288.88 514.62 289.62 515.2 292.3 C515.78 294.98 516.33 300.58 516.9 304.3 C517.47 308.02 518.03 312.03 518.6 314.6 C519.17 317.17 519.75 318.73 520.3 319.7 C520.85 320.67 521.48 318.18 521.9 320.4 C522.32 322.62 522.48 331.85 522.8 333 C523.12 334.15 523.3 327.6 523.8 327.3 C524.3 327 525.15 328.58 525.8 331.2 C526.45 333.82 526.88 338.75 527.7 343 C528.52 347.25 529.88 352.78 530.7 356.7 C531.52 360.62 531.62 364.65 532.6 366.5 C533.58 368.35 535.28 368.13 536.6 367.8 C537.92 367.47 539.52 366.3 540.5 364.5 C541.48 362.7 541.85 357 542.5 357 C543.15 357 543.92 362.7 544.4 364.5 C544.88 366.3 544.42 367.25 545.4 367.8 C546.38 368.35 549 369.65 550.3 367.8 C551.6 365.95 552.38 361.5 553.2 356.7 C554.02 351.9 554.53 345.22 555.2 339 C555.87 332.78 556.55 324.13 557.2 319.4 C557.85 314.67 558.45 312.23 559.1 310.6 C559.75 308.97 560.45 308.78 561.1 309.6 C561.75 310.42 562.18 313.05 563 315.5 C563.82 317.95 564.85 322.5 566 324.3 C567.15 326.1 568.32 326.3 569.9 326.3 C571.48 326.3 573.4 324.78 575.5 324.3 C577.6 323.82 580.45 323.7 582.5 323.4 C584.55 323.1 586.05 322.65 587.8 322.5 C589.55 322.35 590.97 322.2 593 322.5 C595.03 322.8 598.1 323.57 600 324.3 C601.9 325.03 602.93 326.9 604.4 326.9 C605.87 326.9 606.9 324.73 608.8 324.3 C610.7 323.87 613.77 323.87 615.8 324.3 C617.83 324.73 619.25 326.62 621 326.9 C622.75 327.18 623.97 326.15 626.3 326 C628.63 325.85 632.08 325.85 635 326 C637.92 326.15 640.87 326.9 643.8 326.9 C646.73 326.9 649.68 326 652.6 326 C655.52 326 658.38 326.75 661.3 326.9 C664.22 327.05 666.88 326.9 670.1 326.9 C673.32 326.9 678.85 326.9 680.6 326.9" fill="none" stroke="#b65af8" stroke-width="3.0" stroke-linejoin="round" clip-path="url(#accclip)"/><line x1="403" y1="288.6" x2="679.7" y2="288.6" stroke="#6e6e6e" stroke-width="2" stroke-dasharray="7.9 7.76"/><line x1="403" y1="296.7" x2="679.7" y2="296.7" stroke="#ff00ff" stroke-width="2" stroke-dasharray="7.9 7.76"/><line x1="403" y1="359.6" x2="679.7" y2="359.6" stroke="#ff00ff" stroke-width="2" stroke-dasharray="7.9 7.76"/><line x1="403" y1="367.3" x2="679.7" y2="367.3" stroke="#6e6e6e" stroke-width="1.6" stroke-dasharray="7.9 7.76"/><path d="M403.2 327.6 C404.53 327.77 408.78 328.25 411.2 328.6 C413.62 328.95 415.73 329.63 417.7 329.7 C419.67 329.77 421.2 329.35 423 329 C424.8 328.65 426.5 327.48 428.5 327.6 C430.5 327.72 433.08 329.05 435 329.7 C436.92 330.35 438.32 331.27 440 331.5 C441.68 331.73 443.67 331.1 445.1 331.1 C446.53 331.1 447.45 331.02 448.6 331.5 C449.75 331.98 450.57 332.72 452 334 C453.43 335.28 455.92 337.62 457.2 339.2 C458.48 340.78 459 342.37 459.7 343.5 C460.4 344.63 460.68 346.87 461.4 346 C462.12 345.13 463.13 340.87 464 338.3 C464.87 335.73 465.88 332.32 466.6 330.6 C467.32 328.88 467.58 327.57 468.3 328 C469.02 328.43 470.05 331.2 470.9 333.2 C471.75 335.2 472.55 338.15 473.4 340 C474.25 341.85 475.28 343.72 476 344.3 C476.72 344.88 477.12 345.63 477.7 343.5 C478.28 341.37 479.03 335.75 479.5 331.5 C479.97 327.25 480.13 322.53 480.5 318 C480.87 313.47 481.27 306.15 481.7 304.3 C482.13 302.45 482.67 307.47 483.1 306.9 C483.53 306.33 483.82 303.05 484.3 300.9 C484.78 298.75 485.43 295.87 486 294 C486.57 292.13 486.98 290.67 487.7 289.7 C488.42 288.73 488.43 288.45 490.3 288.2 C492.17 287.95 497.18 287.23 498.9 288.2 C500.62 289.17 500.03 290.75 500.6 294 C501.17 297.25 501.73 303.12 502.3 307.7 C502.87 312.28 503.43 317.5 504 321.5 C504.57 325.5 505.13 332 505.7 331.7 C506.27 331.4 506.88 324.27 507.4 319.7 C507.92 315.13 508.37 304.87 508.8 304.3 C509.23 303.73 509.6 311.73 510 316.3 C510.4 320.87 510.77 329.98 511.2 331.7 C511.63 333.42 512.08 328.6 512.6 326.6 C513.12 324.6 513.73 320.55 514.3 319.7 C514.87 318.85 515.23 320.57 516 321.5 C516.77 322.43 517.77 323.85 518.9 325.3 C520.03 326.75 521.48 328.23 522.8 330.2 C524.12 332.17 525.48 334.48 526.8 337.1 C528.12 339.72 529.4 342.97 530.7 345.9 C532 348.83 533.47 352.42 534.6 354.7 C535.73 356.98 536.68 358.55 537.5 359.6 C538.32 360.65 538.67 361.33 539.5 361 C540.33 360.67 541.35 359.63 542.5 357.6 C543.65 355.57 545.1 351.9 546.4 348.8 C547.7 345.7 549 341.93 550.3 339 C551.6 336.07 552.9 333.15 554.2 331.2 C555.5 329.25 556.47 328.28 558.1 327.3 C559.73 326.32 562.12 325.95 564 325.3 C565.88 324.65 567.77 324.02 569.4 323.4 C571.03 322.78 571.62 321.9 573.8 321.6 C575.98 321.3 580.62 321.3 582.5 321.6 C584.38 321.9 584.22 322.37 585.1 323.4 C585.98 324.43 586.98 326.48 587.8 327.8 C588.62 329.12 589.28 331.3 590 331.3 C590.72 331.3 591.3 329.03 592.1 327.8 C592.9 326.57 593.77 324.72 594.8 323.9 C595.83 323.08 596.85 322.83 598.3 322.9 C599.75 322.97 601.75 323.83 603.5 324.3 C605.25 324.77 607.18 325.47 608.8 325.7 C610.42 325.93 611.88 326.08 613.2 325.7 C614.52 325.32 615.4 323.4 616.7 323.4 C618 323.4 619.55 325.42 621 325.7 C622.45 325.98 624.08 325.2 625.4 325.1 C626.72 325 627.58 324.8 628.9 325.1 C630.22 325.4 631.68 326.37 633.3 326.9 C634.92 327.43 636.85 328.15 638.6 328.3 C640.35 328.45 641.77 328.12 643.8 327.8 C645.83 327.48 648.75 326.4 650.8 326.4 C652.85 326.4 654.05 327.28 656.1 327.8 C658.15 328.32 660.77 329.37 663.1 329.5 C665.43 329.63 668.07 328.88 670.1 328.6 C672.13 328.32 673.55 328 675.3 327.8 C677.05 327.6 679.72 327.47 680.6 327.4" fill="none" stroke="#10c810" stroke-width="3.0" stroke-linejoin="round" clip-path="url(#accclip)"/><circle cx="403" cy="64.7" r="4.9" fill="none" stroke="#00ec00" stroke-width="3.4"/><path d="M675.3 99.3 L682.7 106.7 M682.7 99.3 L675.3 106.7" stroke="#ff1010" stroke-width="3.2"/></g>
<text x="27.9" y="299.6" font-family="Liberation Sans" font-size="13.8" fill="#262626" text-anchor="end" textLength="25.68" lengthAdjust="spacingAndGlyphs">-0.1</text>
<text x="27.9" y="263.15" font-family="Liberation Sans" font-size="13.8" fill="#262626" text-anchor="end" textLength="8.29" lengthAdjust="spacingAndGlyphs">0</text>
<text x="27.9" y="226.7" font-family="Liberation Sans" font-size="13.8" fill="#262626" text-anchor="end" textLength="20.72" lengthAdjust="spacingAndGlyphs">0.1</text>
<text x="27.9" y="190.25" font-family="Liberation Sans" font-size="13.8" fill="#262626" text-anchor="end" textLength="20.72" lengthAdjust="spacingAndGlyphs">0.2</text>
<text x="27.9" y="153.8" font-family="Liberation Sans" font-size="13.8" fill="#262626" text-anchor="end" textLength="20.72" lengthAdjust="spacingAndGlyphs">0.3</text>
<text x="27.9" y="117.35" font-family="Liberation Sans" font-size="13.8" fill="#262626" text-anchor="end" textLength="20.72" lengthAdjust="spacingAndGlyphs">0.4</text>
<text x="27.9" y="80.9" font-family="Liberation Sans" font-size="13.8" fill="#262626" text-anchor="end" textLength="20.72" lengthAdjust="spacingAndGlyphs">0.5</text>
<text x="160.5" y="388.6" font-family="Liberation Sans" font-size="13.8" fill="#262626" text-anchor="end" textLength="8.29" lengthAdjust="spacingAndGlyphs">0</text>
<text x="127.7" y="370.1" font-family="Liberation Sans" font-size="13.8" fill="#262626" text-anchor="end" textLength="20.72" lengthAdjust="spacingAndGlyphs">0.2</text>
<text x="94.9" y="351.6" font-family="Liberation Sans" font-size="13.8" fill="#262626" text-anchor="end" textLength="20.72" lengthAdjust="spacingAndGlyphs">0.4</text>
<text x="62.1" y="333.1" font-family="Liberation Sans" font-size="13.8" fill="#262626" text-anchor="end" textLength="20.72" lengthAdjust="spacingAndGlyphs">0.6</text>
<text x="29.3" y="314.6" font-family="Liberation Sans" font-size="13.8" fill="#262626" text-anchor="end" textLength="20.72" lengthAdjust="spacingAndGlyphs">0.8</text>
<text x="234.07" y="390.59" font-family="Liberation Sans" font-size="13.8" fill="#262626" textLength="25.68" lengthAdjust="spacingAndGlyphs">-0.2</text>
<text x="302.07" y="381.99" font-family="Liberation Sans" font-size="13.8" fill="#262626" textLength="8.29" lengthAdjust="spacingAndGlyphs">0</text>
<text x="370.07" y="373.39" font-family="Liberation Sans" font-size="13.8" fill="#262626" textLength="20.72" lengthAdjust="spacingAndGlyphs">0.2</text>
<text transform="translate(69.4 207.6) rotate(-90)" font-family="Liberation Sans" font-size="15.2" fill="#262626" textLength="38.8" lengthAdjust="spacingAndGlyphs">Z [m]</text>
<text x="102" y="330.6" font-family="Liberation Sans" font-size="15.2" fill="#262626" textLength="38.5" lengthAdjust="spacingAndGlyphs">Y [m]</text>
<text x="257.3" y="354.8" font-family="Liberation Sans" font-size="15.2" fill="#262626" textLength="39" lengthAdjust="spacingAndGlyphs">X [m]</text>
<text x="263.3" y="29.3" font-family="Liberation Serif" font-size="19.6" fill="#000" textLength="47.5" lengthAdjust="spacingAndGlyphs" font-style="italic">DMP</text>
<text x="263.3" y="55.2" font-family="Liberation Serif" font-size="19.6" fill="#000" textLength="47.5" lengthAdjust="spacingAndGlyphs" font-style="italic">DMP</text>
<text x="263.3" y="83.8" font-family="Liberation Serif" font-size="19.6" fill="#000" textLength="47.5" lengthAdjust="spacingAndGlyphs" font-style="italic">DMP</text>
<text x="312.6" y="47.6" font-family="Liberation Serif" font-size="13" fill="#000">*</text>
<text x="312.6" y="76" font-family="Liberation Serif" font-size="13" fill="#000">*</text>
<text x="311.6" y="59.6" font-family="Liberation Serif" font-size="13.5" fill="#000" font-style="italic">p</text>
<text x="313" y="87.9" font-family="Liberation Serif" font-size="13.5" fill="#000" font-style="italic">v</text>
<text x="403.1" y="129.1" font-family="Liberation Sans" font-size="15.5" fill="#262626" text-anchor="middle">0</text>
<text x="494.94" y="129.1" font-family="Liberation Sans" font-size="15.5" fill="#262626" text-anchor="middle">2</text>
<text x="586.78" y="129.1" font-family="Liberation Sans" font-size="15.5" fill="#262626" text-anchor="middle">4</text>
<text x="678.62" y="129.1" font-family="Liberation Sans" font-size="15.5" fill="#262626" text-anchor="middle">6</text>
<text x="397" y="40.8" font-family="Liberation Sans" font-size="15.5" fill="#262626" text-anchor="end" textLength="22.19" lengthAdjust="spacingAndGlyphs">0.2</text>
<text x="397" y="69.8" font-family="Liberation Sans" font-size="15.5" fill="#262626" text-anchor="end">0</text>
<text x="397" y="98.8" font-family="Liberation Sans" font-size="15.5" fill="#262626" text-anchor="end" textLength="27.51" lengthAdjust="spacingAndGlyphs">-0.2</text>
<text x="401.7" y="257.6" font-family="Liberation Sans" font-size="15.5" fill="#262626" text-anchor="middle">0</text>
<text x="448.2" y="257.6" font-family="Liberation Sans" font-size="15.5" fill="#262626" text-anchor="middle">1</text>
<text x="494.7" y="257.6" font-family="Liberation Sans" font-size="15.5" fill="#262626" text-anchor="middle">2</text>
<text x="541.2" y="257.6" font-family="Liberation Sans" font-size="15.5" fill="#262626" text-anchor="middle">3</text>
<text x="587.7" y="257.6" font-family="Liberation Sans" font-size="15.5" fill="#262626" text-anchor="middle">4</text>
<text x="634.2" y="257.6" font-family="Liberation Sans" font-size="15.5" fill="#262626" text-anchor="middle">5</text>
<text x="395.6" y="169.6" font-family="Liberation Sans" font-size="15.5" fill="#262626" text-anchor="end" textLength="22.19" lengthAdjust="spacingAndGlyphs">0.5</text>
<text x="395.6" y="198.1" font-family="Liberation Sans" font-size="15.5" fill="#262626" text-anchor="end">0</text>
<text x="395.6" y="226.6" font-family="Liberation Sans" font-size="15.5" fill="#262626" text-anchor="end" textLength="27.51" lengthAdjust="spacingAndGlyphs">-0.5</text>
<text x="403" y="385.9" font-family="Liberation Sans" font-size="15.5" fill="#262626" text-anchor="middle">0</text>
<text x="449.27" y="385.9" font-family="Liberation Sans" font-size="15.5" fill="#262626" text-anchor="middle">1</text>
<text x="495.54" y="385.9" font-family="Liberation Sans" font-size="15.5" fill="#262626" text-anchor="middle">2</text>
<text x="541.81" y="385.9" font-family="Liberation Sans" font-size="15.5" fill="#262626" text-anchor="middle">3</text>
<text x="588.08" y="385.9" font-family="Liberation Sans" font-size="15.5" fill="#262626" text-anchor="middle">4</text>
<text x="634.35" y="385.9" font-family="Liberation Sans" font-size="15.5" fill="#262626" text-anchor="middle">5</text>
<text x="396.9" y="301.9" font-family="Liberation Sans" font-size="15.5" fill="#262626" text-anchor="end">2</text>
<text x="396.9" y="333.8" font-family="Liberation Sans" font-size="15.5" fill="#262626" text-anchor="end">0</text>
<text x="396.9" y="365.2" font-family="Liberation Sans" font-size="15.5" fill="#262626" text-anchor="end" textLength="14.19" lengthAdjust="spacingAndGlyphs">-2</text>
<text x="514" y="11.7" font-family="Liberation Sans" font-size="15.2" fill="#000" textLength="54" lengthAdjust="spacingAndGlyphs" font-weight="bold">X-axis</text>
<text transform="translate(365.4 87.6) rotate(-90)" font-family="Liberation Serif" font-size="16" fill="#262626" textLength="48.5" lengthAdjust="spacingAndGlyphs">pos [<tspan font-style="italic">m</tspan>]</text>
<text transform="translate(366.8 221) rotate(-90)" font-family="Liberation Serif" font-size="16" fill="#262626" textLength="58.8" lengthAdjust="spacingAndGlyphs">vel [<tspan font-style="italic">m</tspan>/<tspan font-style="italic">s</tspan>]</text>
<text transform="translate(380.2 342.4) rotate(-90)" font-family="Liberation Serif" font-size="16" fill="#262626" textLength="79.7" lengthAdjust="spacingAndGlyphs">accel [<tspan font-style="italic">m</tspan>/<tspan font-style="italic">s</tspan><tspan dy="-5.5" font-size="11">2</tspan><tspan dy="5.5">]</tspan></text>
<text x="516.2" y="403.8" font-family="Liberation Serif" font-size="16" fill="#262626" textLength="50" lengthAdjust="spacingAndGlyphs">time [<tspan font-style="italic">s</tspan>]</text></svg>
</body></html>
